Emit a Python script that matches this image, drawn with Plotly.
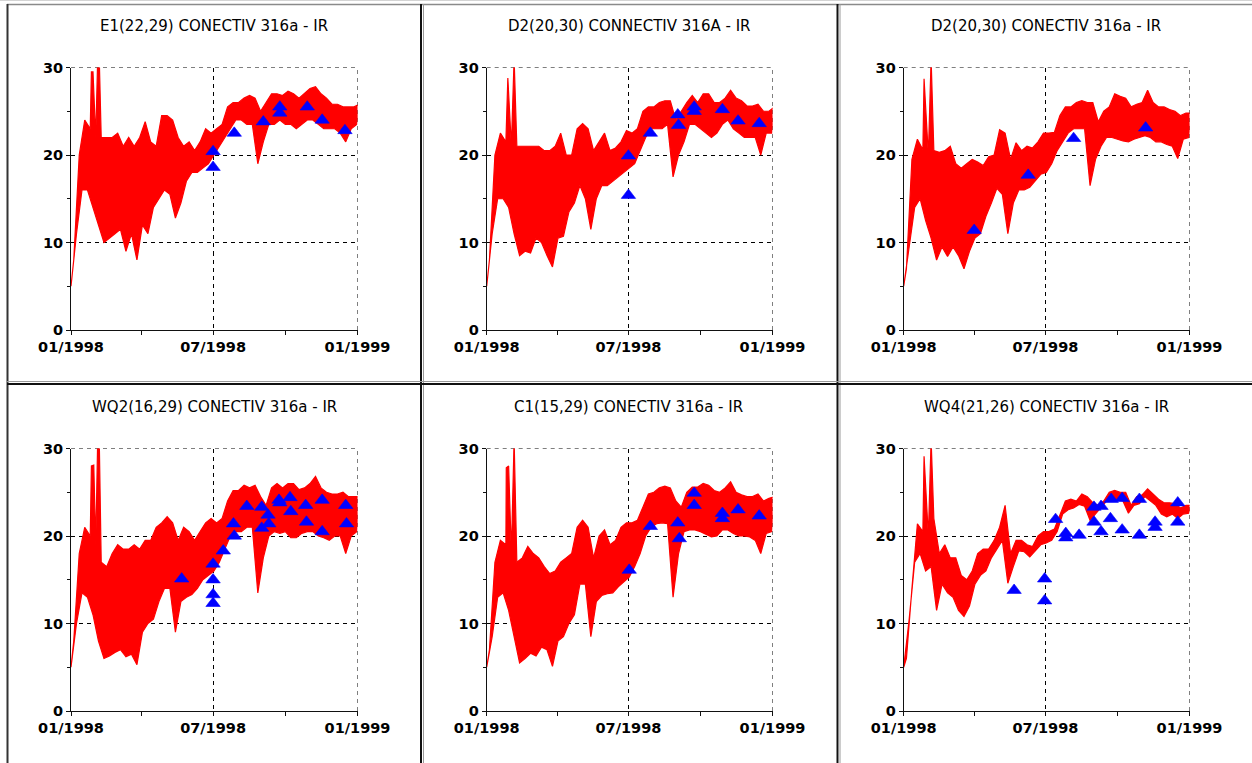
import pandas as pd
import plotly.graph_objects as go

W, H = 1252, 763
START = pd.Timestamp("1998-01-01")
END = pd.Timestamp("1999-01-01")

TITLES = [
    "E1(22,29) CONECTIV 316a - IR",
    "D2(20,30) CONNECTIV 316A - IR",
    "D2(20,30) CONECTIV 316a - IR",
    "WQ2(16,29) CONECTIV 316a - IR",
    "C1(15,29) CONECTIV 316a - IR",
    "WQ4(21,26) CONECTIV 316a - IR",
]
X_TICK_DATES = ["1998-01-01", "1998-07-01", "1999-01-01"]
X_TICK_TEXT = ["01/1998", "07/1998", "01/1999"]
X_MINOR_DATES = ["1998-04-01", "1998-10-01"]
Y_TICKS = [0, 10, 20, 30]
Y_MINOR = [5, 15, 25]

# weekly sample days (day of year offsets)
WEEK_DAYS = list(range(0, 365, 7))

# ---- Panel 1: E1(22,29) ----
p1_lo = [5, 11, 16, 16, 14, 12, 10, 10.5, 11, 11.5, 9, 11, 8, 12, 11, 14, 15, 16, 15.5, 12.8,
         14.5, 17, 18, 18, 18.5, 19, 20, 21, 22, 23, 24, 24, 23.5, 23.5, 19, 21.5, 23.5, 23.5,
         24, 23.5, 23.5, 23, 23.5, 24, 24, 23.5, 23, 23, 23, 22.5, 21.5, 23, 23.5]
p1_hi = [8, 20, 24, 23, 22, 22, 22, 22, 22.5, 21, 22, 21, 22, 23.8, 21.5, 21, 24.5, 24.5, 24, 22,
         21, 21.5, 20.5, 21.5, 23, 22.5, 23, 23.5, 25.5, 26, 26, 26.5, 26.8, 26.5, 25, 26, 27, 27,
         26.8, 27.3, 27, 26.5, 27, 27.6, 27.8, 27, 26.5, 25.8, 25.8, 25.5, 25.5, 25.5, 25.8]
p1_spike_days = [26, 28, 34, 36]
p1_spike_vals = [29.5, 29.5, 31, 31]
p1_obs_days = [181, 181, 208, 245, 266, 266, 301, 320, 349]
p1_obs_vals = [20.4, 18.6, 22.5, 23.8, 25.5, 24.8, 25.5, 24.0, 22.8]

# ---- Panel 2: D2(20,30) CONNECTIV ----
p2_lo = [5, 11, 15, 15, 14, 11, 8.5, 9, 8.8, 10.5, 10, 8.5, 7.2, 10.5, 10.7, 13.5, 14.5, 16.5, 15,
         11.5, 15, 16.5, 16.5, 17, 17.5, 18, 18.5, 19, 20.5, 22, 23, 23, 23, 23.5, 17.5, 20, 21.5,
         23.5, 23.5, 23, 22.5, 22, 22.5, 23.5, 24, 23, 22.5, 22, 22, 22, 20, 22.5, 22.5]
p2_hi = [8, 20, 22.5, 21.5, 21, 21, 21, 21, 21, 21, 20.5, 20.5, 21, 22.5, 20, 20, 23, 23.6, 23,
         20.5, 21.5, 22.5, 20.5, 20.8, 21.5, 22.8, 22.5, 23, 25, 25.5, 25.5, 26, 26.2, 26.2, 24, 25,
         26, 26.8, 26, 27, 27, 26, 26, 26.5, 27.4, 26.5, 26.2, 25.6, 25.6, 25.8, 25, 25, 25.5]
p2_spike_days = [27, 35]
p2_spike_vals = [28.8, 31]
p2_obs_days = [181, 181, 209, 244, 245, 265, 265, 301, 321, 348]
p2_obs_vals = [19.9, 15.4, 22.5, 24.6, 23.4, 25.5, 25.0, 25.2, 23.9, 23.6]

# ---- Panel 3: D2(20,30) CONECTIV ----
p3_lo = [5, 9.5, 14, 15, 12.5, 10.5, 8, 9.5, 8.4, 9.5, 8.5, 7, 9, 10.5, 11, 13, 14.5, 16.2, 15.5,
         11, 14.5, 16, 16, 16.3, 17, 17.8, 18, 19, 20.5, 21.5, 22.5, 23, 23, 23, 16.5, 19.5, 21,
         22, 22, 21.8, 21.6, 21.5, 21.8, 22, 22.2, 22, 21.5, 21.5, 21.2, 21, 19.6, 21.8, 22]
p3_hi = [7, 19.5, 21.8, 20.6, 20, 20.5, 20.3, 20.5, 21, 19, 18.5, 19, 19.5, 19.2, 18.8, 19.8, 20,
         22.9, 22.5, 19.5, 21.4, 20.5, 21, 20.8, 21.5, 22.5, 22.5, 22.6, 24.5, 25.5, 25.5, 26, 26.2,
         26, 26, 23.8, 25, 25.5, 27, 26.7, 26.5, 25.5, 25.8, 26, 27.4, 26, 25.5, 25.5, 25.2, 25,
         24.5, 24.8, 24.8]
p3_spike_days = [26, 35]
p3_spike_vals = [28.7, 31]
p3_obs_days = [90, 159, 217, 309]
p3_obs_vals = [11.4, 17.7, 21.9, 23.1]

# ---- Panel 4: WQ2(16,29) ----
p4_lo = [5, 10, 13.5, 13, 11, 8, 6, 6.3, 6.7, 7, 6.2, 6.5, 5.3, 9, 10, 10.5, 12.5, 14, 14, 9,
         12.5, 13, 13.3, 14, 15, 15.5, 16, 17, 18.5, 20, 20.5, 20.5, 21, 21, 13.5, 17.5, 20, 20.5,
         20.3, 20.5, 19.8, 19.8, 20.3, 20.5, 20.5, 20, 19.8, 19.5, 20, 20, 18, 20, 20.5]
p4_hi = [8, 18, 21, 20, 19, 17, 16.5, 18, 19, 18.5, 18.5, 19, 18.5, 19.5, 19.5, 21, 21.5, 22.2,
         21.5, 19.5, 21, 20.5, 19.5, 20.5, 21.5, 22, 21.5, 22, 24, 25.2, 25.2, 25.8, 25.5, 25.8,
         24.5, 23.5, 25.5, 26, 25.5, 26, 26, 25.3, 25.5, 26, 26.8, 25.5, 25, 24.8, 24.8, 25, 24.5,
         24.5, 24.5]
p4_spike_days = [26, 29, 34, 36]
p4_spike_vals = [28, 28.1, 31, 31]
p4_obs_days = [141, 181, 181, 181, 181, 194, 207, 208, 224, 243, 243, 251, 252, 265, 266, 279,
               280, 299, 300, 320, 320, 350, 351]
p4_obs_vals = [15.1, 16.8, 15.0, 13.3, 12.3, 18.3, 21.4, 20.0, 23.4, 23.3, 20.9, 22.4, 21.4,
               24.1, 23.8, 24.4, 22.8, 23.5, 21.6, 24.1, 20.5, 23.5, 21.4]

# ---- Panel 5: C1(15,29) ----
p5_lo = [5, 8.5, 13, 13.5, 11.5, 8.5, 5.5, 6, 6.6, 6.3, 7.3, 7, 5.1, 8, 8.5, 10, 11, 14.5, 14.5,
         8.5, 12.5, 13.2, 13.4, 13.5, 14.2, 14.8, 15.3, 16.5, 18, 20, 21, 21.4, 21.5, 21.4, 13, 18,
         20.5, 20.7, 20.7, 20.5, 20.2, 19.9, 20, 20.7, 20.7, 20.3, 20, 20, 19.9, 19.5, 18, 20.3, 20.5]
p5_hi = [7, 17, 19.5, 19, 18, 17, 17.5, 18.8, 18, 17.5, 16.5, 15.7, 16, 17, 17.5, 18, 21, 21.8,
         21, 17.5, 20, 20.7, 19, 19.5, 21, 21.5, 21.5, 21.8, 23.3, 24.8, 25, 25.5, 25.7, 25.5, 24,
         23.3, 25, 25.6, 25.6, 26, 25.8, 25.2, 25, 25.5, 26.2, 25, 24.7, 24.5, 24.5, 24.8, 24,
         24.3, 24.5]
p5_spike_days = [25, 28, 35]
p5_spike_vals = [27.8, 28, 31]
p5_obs_days = [182, 209, 244, 246, 265, 265, 301, 301, 321, 348]
p5_obs_vals = [16.1, 21.1, 21.5, 19.7, 24.9, 23.5, 22.6, 22.0, 23.0, 22.3]

# ---- Panel 6: WQ4(21,26) ----
p6_lo = [5, 10.5, 17, 18, 16, 16.5, 11.5, 14.5, 13.5, 13, 11.5, 10.8, 12, 14.5, 15.5, 16, 17.5,
         18.5, 19.5, 14.6, 16.5, 18.3, 18.2, 17.6, 18.3, 19, 19.2, 19.5, 20.5, 22.5, 23, 23.2,
         23.6, 23.4, 21.8, 22.5, 23.3, 24, 24, 24.2, 24, 22.6, 23.5, 23.7, 24.5, 24, 23.5, 22.5,
         22.2, 22.5, 22, 22.5, 22.6]
p6_hi = [6, 14, 21.4, 20.5, 20, 22, 18, 19, 17.5, 17.5, 15.5, 15, 16, 18, 18.5, 18.5, 19.5, 21,
         23.5, 18, 19.5, 19.5, 19, 18.8, 20, 20.5, 20.5, 20.8, 22.5, 24, 24.2, 24, 24.8, 24.5,
         23.8, 23.5, 24, 25, 25.2, 25, 25, 23.5, 24.5, 24.7, 25.4, 24.8, 24.2, 23.8, 23.8, 23.7,
         23.2, 23.5, 23.5]
p6_spike_days = [26, 35]
p6_spike_vals = [29.1, 31]
p6_obs_days = [141, 180, 180, 194, 207, 207, 224, 243, 252, 243, 252, 265, 264, 279, 279, 301,
               301, 321, 321, 350, 350]
p6_obs_vals = [13.8, 15.1, 12.6, 21.9, 20.3, 19.8, 20.1, 23.3, 23.4, 21.6, 20.5, 24.2, 22.0,
               24.3, 20.7, 24.2, 20.1, 21.6, 21.0, 23.8, 21.6]

PANELS = [
    (p1_lo, p1_hi, p1_spike_days, p1_spike_vals, p1_obs_days, p1_obs_vals),
    (p2_lo, p2_hi, p2_spike_days, p2_spike_vals, p2_obs_days, p2_obs_vals),
    (p3_lo, p3_hi, p3_spike_days, p3_spike_vals, p3_obs_days, p3_obs_vals),
    (p4_lo, p4_hi, p4_spike_days, p4_spike_vals, p4_obs_days, p4_obs_vals),
    (p5_lo, p5_hi, p5_spike_days, p5_spike_vals, p5_obs_days, p5_obs_vals),
    (p6_lo, p6_hi, p6_spike_days, p6_spike_vals, p6_obs_days, p6_obs_vals),
]

# layout geometry (pixels)
COL_X = [(71, 357.5), (486.7, 772.5), (903.7, 1189.5)]
ROW_Y = [(67.5, 330), (448.5, 711)]
COL_TITLE_X = [214, 629, 1046]
ROW_TITLE_Y = [26, 407]

GRID_STYLE = dict(color="#000000", width=1, dash="4px,4px")


def day_to_date(d):
    return START + pd.Timedelta(hours=d * 24)


fig = go.Figure()
layout_axes = {}
annotations = []
shapes = []

for k, (lo, hi, sd, sv, od, ov) in enumerate(PANELS):
    r, c = divmod(k, 3)
    n = k + 1
    xa = "x" if n == 1 else f"x{n}"
    ya = "y" if n == 1 else f"y{n}"

    # upper edge: weekly highs (offset half a week) plus narrow spikes
    upper = [(d + 3.5, h) for d, h in zip(WEEK_DAYS, hi)] + list(zip(sd, sv))
    upper.sort(key=lambda p: p[0])
    upper = [(WEEK_DAYS[0], lo[0])] + upper
    lower = [(d, l) for d, l in zip(WEEK_DAYS, lo)]
    poly = upper + lower[::-1]
    fig.add_trace(go.Scatter(
        x=[day_to_date(p[0]) for p in poly], y=[p[1] for p in poly],
        mode="lines", fill="toself", fillcolor="#ff0000",
        line=dict(color="#ff0000", width=1.2),
        xaxis=xa, yaxis=ya, showlegend=False, hoverinfo="skip"))
    fig.add_trace(go.Scatter(
        x=[day_to_date(d) for d in od], y=ov, mode="markers",
        marker=dict(symbol="triangle-up", size=12.5, color="#0000ff",
                    line=dict(color="#0000ff", width=0.6)),
        xaxis=xa, yaxis=ya, showlegend=False))

    x0, x1 = COL_X[c]
    yt, yb = ROW_Y[r]
    axis_common = dict(showline=True, linecolor="#111111", linewidth=1,
                       showgrid=True, gridcolor="#000000", gridwidth=1,
                       griddash="4px,4px", zeroline=False, ticks="outside",
                       tickcolor="#111111", tickwidth=1, automargin=False,
                       tickfont=dict(family="DejaVu Sans", size=14.5, color="#000000",
                                     weight="bold"),
                       fixedrange=True)
    layout_axes["xaxis" if n == 1 else f"xaxis{n}"] = dict(
        axis_common, domain=[x0 / W, x1 / W], anchor=ya, type="date",
        range=[START, END], tickmode="array", tickvals=X_TICK_DATES,
        ticktext=X_TICK_TEXT, ticklen=4,
        minor=dict(tickmode="array", tickvals=X_MINOR_DATES, ticks="outside",
                   ticklen=4, tickcolor="#111111", showgrid=False))
    layout_axes["yaxis" if n == 1 else f"yaxis{n}"] = dict(
        axis_common, domain=[1 - yb / H, 1 - yt / H], anchor=xa,
        range=[0, 30], tickmode="array", tickvals=Y_TICKS, ticklen=4,
        minor=dict(tickmode="array", tickvals=Y_MINOR, ticks="outside",
                   ticklen=3, tickcolor="#111111", showgrid=False))

    # dashed grid lines on the top and right edges (plotly omits edge gridlines)
    shapes.append(dict(type="line", xref=f"{xa} domain", yref=ya, x0=0, x1=1,
                       y0=Y_TICKS[-1], y1=Y_TICKS[-1], line=GRID_STYLE, layer="below"))
    shapes.append(dict(type="line", xref=xa, yref=f"{ya} domain",
                       x0=X_TICK_DATES[-1], x1=X_TICK_DATES[-1], y0=0, y1=1,
                       line=GRID_STYLE, layer="below"))

    annotations.append(dict(
        text=TITLES[k], x=COL_TITLE_X[c] / W, y=1 - ROW_TITLE_Y[r] / H,
        xref="paper", yref="paper", xanchor="center", yanchor="middle",
        showarrow=False, font=dict(family="DejaVu Sans", size=15, color="#000000")))


def hline(y, x0, x1, color, width):
    return dict(type="line", xref="paper", yref="paper", x0=x0 / W, x1=x1 / W,
                y0=1 - y / H, y1=1 - y / H, line=dict(color=color, width=width))


def vline(x, y0, y1, color, width):
    return dict(type="line", xref="paper", yref="paper", x0=x / W, x1=x / W,
                y0=1 - y0 / H, y1=1 - y1 / H, line=dict(color=color, width=width))


shapes += [
    hline(0.5, 0, W, "#d4d4d4", 1),
    hline(4.5, 7, W, "#8a8a8a", 1.5),
    vline(7.5, 4, H, "#333333", 2),
    vline(421, 4, H, "#111111", 2),
    vline(423.5, 4, H, "#9a9a9a", 1),
    vline(837.5, 4, H, "#111111", 2),
    vline(840, 4, H, "#9a9a9a", 1),
    hline(381.5, 7, W, "#9a9a9a", 1),
    hline(384, 7, W, "#111111", 2),
]

fig.update_layout(
    width=W, height=H, autosize=False,
    margin=dict(l=0, r=0, t=0, b=0, pad=0, autoexpand=False),
    paper_bgcolor="#ffffff", plot_bgcolor="#ffffff",
    annotations=annotations, shapes=shapes, showlegend=False,
    **layout_axes)

fig.write_html("out.html")
